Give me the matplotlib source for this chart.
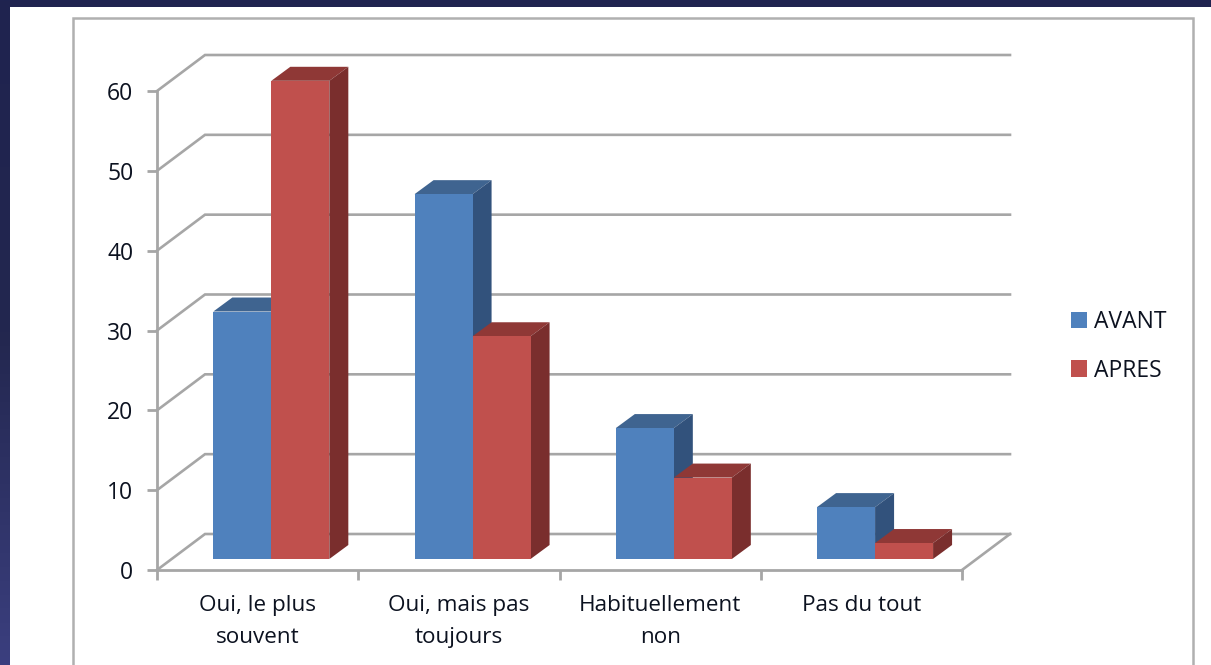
import numpy as np
import matplotlib
matplotlib.use("Agg")
import matplotlib.pyplot as plt
from matplotlib.patches import Polygon, Rectangle

categories = ["Oui, le plus\nsouvent", "Oui, mais pas\ntoujours", "Habituellement\nnon", "Pas du tout"]
avant = [31, 45.7, 16.4, 6.5]
apres = [59.9, 27.9, 10.2, 2]
y_ticks = [0, 10, 20, 30, 40, 50, 60]

W, H = 1211, 665
GRID = "#a6a6a6"
TEXT = "#0c1220"
BLUE = ("#4f81bd", "#3f6490", "#32527c")
RED = ("#c0504d", "#8f3836", "#7a2e2d")

plt.rcParams["font.family"] = ["Open Sans", "DejaVu Sans"]

fig = plt.figure(figsize=(W / 100, H / 100), dpi=100, facecolor="white")

# slide background and the white chart area
bg = fig.add_axes([0, 0, 1, 1], zorder=0)
bg.set_xlim(0, W)
bg.set_ylim(H, 0)
bg.axis("off")
shade = np.linspace(0, 1, 256).reshape(-1, 1)
cmap = matplotlib.colors.LinearSegmentedColormap.from_list("slide", ["#1f2350", "#23274f", "#3b3f7f"])
bg.imshow(shade, cmap=cmap, extent=[0, W, H, 0], aspect="auto")
bg.add_patch(Rectangle((10, 7), W, H, fc="white", ec="none"))
bg.add_patch(Rectangle((73, 18), 1120, H, fc="white", ec="#b0b0b0", lw=1.8))
bg.set_xlim(0, W)
bg.set_ylim(H, 0)

# plot axes: x is category number, y is the value on the front wall
left, right, bottom, top = 157, 962, 570, 91
ax = fig.add_axes([left / W, 1 - bottom / H, (right - left) / W, (bottom - top) / H], zorder=1)
ax.set_xlim(0, 4)
ax.set_ylim(0, 60)
ax.patch.set_alpha(0)
for s in ["top", "right"]:
    ax.spines[s].set_visible(False)
for s in ["left", "bottom"]:
    ax.spines[s].set_color(GRID)
    ax.spines[s].set_linewidth(2)

px_x = 4 / (right - left)
px_y = 60 / (bottom - top)

# back wall depth
dx, dy = 48 * px_x, 36 * px_y
for t in y_ticks:
    ax.plot([0, dx, 4 + dx], [t, t + dy, t + dy], color=GRID, lw=1.9, clip_on=False, zorder=1,
            solid_joinstyle="miter")
ax.plot([4, 4 + dx], [0, dy], color=GRID, lw=1.9, clip_on=False, zorder=1)

# bars, front face with top and side from the same values
bar_w = 58 * px_x
bar_dx, bar_dy = 19 * px_x, 14 * px_y
base = 11 * px_y


def draw_bar(x0, val, cols, z):
    y1 = base + val
    ax.add_patch(Rectangle((x0, base), bar_w, val, fc=cols[0], ec="none", zorder=z + 0.2, clip_on=False))
    ax.add_patch(Polygon([(x0, y1), (x0 + bar_dx, y1 + bar_dy), (x0 + bar_w + bar_dx, y1 + bar_dy), (x0 + bar_w, y1)],
                         fc=cols[1], ec="none", zorder=z, clip_on=False))
    ax.add_patch(Polygon([(x0 + bar_w, base), (x0 + bar_w + bar_dx, base + bar_dy),
                          (x0 + bar_w + bar_dx, y1 + bar_dy), (x0 + bar_w, y1)],
                         fc=cols[2], ec="none", zorder=z + 0.1, clip_on=False))


for i in range(len(categories)):
    centre = i + 0.5 + 13.7 * px_x
    draw_bar(centre - bar_w, avant[i], BLUE, 2 + i)
    draw_bar(centre, apres[i], RED, 2.5 + i)

ax.set_xticks(range(5))
ax.set_xticklabels([])
ax.set_yticks(y_ticks)
ax.tick_params(axis="both", color=GRID, width=2, length=7, labelsize=16.5, labelcolor=TEXT)
ax.tick_params(axis="y", pad=10)

for i, c in enumerate(categories):
    ax.annotate(c, (i + 0.5, 0), xytext=(0, -18), textcoords="offset points", ha="center", va="top",
                fontsize=16.2, color=TEXT, linespacing=1.68, annotation_clip=False)

# legend
handles = [Rectangle((0, 0), 1, 1, fc=BLUE[0]), Rectangle((0, 0), 1, 1, fc=RED[0])]
fig.legend(handles, ["AVANT", "APRES"], loc="center left", bbox_to_anchor=(1050 / W, 1 - 346.5 / H), frameon=False,
           fontsize=16.5, labelcolor=TEXT, handlelength=0.7, handleheight=0.7, handletextpad=0.3, labelspacing=1.05)

fig.savefig("out.png", dpi=100)
